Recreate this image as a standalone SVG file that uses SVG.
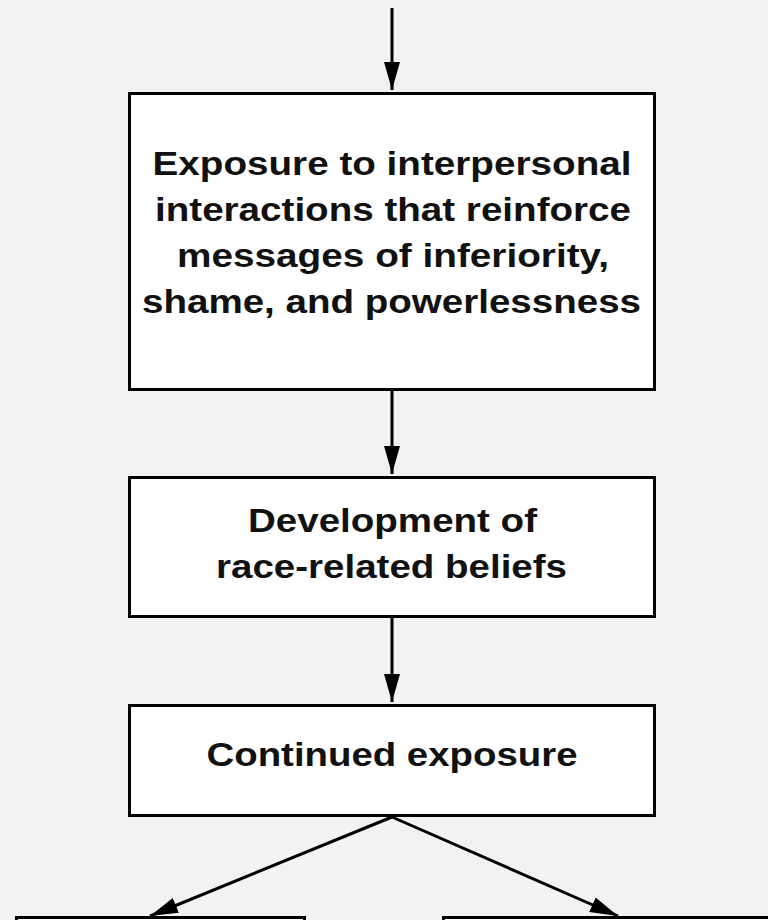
<svg xmlns="http://www.w3.org/2000/svg" width="768" height="920" viewBox="0 0 768 920">
  <defs>
    <marker id="head" viewBox="0 0 28 16" refX="28" refY="8" markerWidth="28" markerHeight="16" markerUnits="userSpaceOnUse" orient="auto">
      <path d="M0,0 L28,8 L0,16 Z" fill="#000"/>
    </marker>
    <style>
      .box { fill: #ffffff; stroke: #000000; stroke-width: 3; }
      .label { font-family: "Liberation Sans", Arial, sans-serif; font-weight: bold; font-size: 33px; fill: #111111; text-anchor: middle; }
      .edge { fill: none; stroke: #000000; stroke-width: 3; marker-end: url(#head); }
    </style>
  </defs>
  <rect width="768" height="920" fill="#f2f2f2"/>

  <g id="connectors">
    <line class="edge" x1="392" y1="8" x2="392" y2="90"/>
    <line class="edge" x1="392" y1="391" x2="392" y2="474"/>
    <line class="edge" x1="392" y1="618" x2="392" y2="702"/>
    <line class="edge" x1="392" y1="817" x2="150" y2="916"/>
    <line class="edge" x1="392" y1="817" x2="618" y2="916"/>
  </g>

  <g id="node-exposure">
    <rect class="box" x="129.5" y="93.5" width="525" height="296"/>
    <text class="label" x="392" y="175" textLength="479" lengthAdjust="spacingAndGlyphs">Exposure to interpersonal</text>
    <text class="label" x="393" y="221" textLength="476" lengthAdjust="spacingAndGlyphs">interactions that reinforce</text>
    <text class="label" x="393" y="267" textLength="432" lengthAdjust="spacingAndGlyphs">messages of inferiority,</text>
    <text class="label" x="391.5" y="313" textLength="499" lengthAdjust="spacingAndGlyphs">shame, and powerlessness</text>
  </g>

  <g id="node-beliefs">
    <rect class="box" x="129.5" y="477.5" width="525" height="139"/>
    <text class="label" x="392.5" y="532" textLength="289" lengthAdjust="spacingAndGlyphs">Development of</text>
    <text class="label" x="391.5" y="578" textLength="351" lengthAdjust="spacingAndGlyphs">race-related beliefs</text>
  </g>

  <g id="node-continued">
    <rect class="box" x="129.5" y="705.5" width="525" height="110"/>
    <text class="label" x="392" y="766" textLength="371" lengthAdjust="spacingAndGlyphs">Continued exposure</text>
  </g>

  <g id="node-bottom-left">
    <rect class="box" x="16.5" y="917.5" width="288" height="20"/>
  </g>

  <g id="node-bottom-right">
    <rect class="box" x="443.5" y="917.5" width="340" height="20"/>
  </g>
</svg>
